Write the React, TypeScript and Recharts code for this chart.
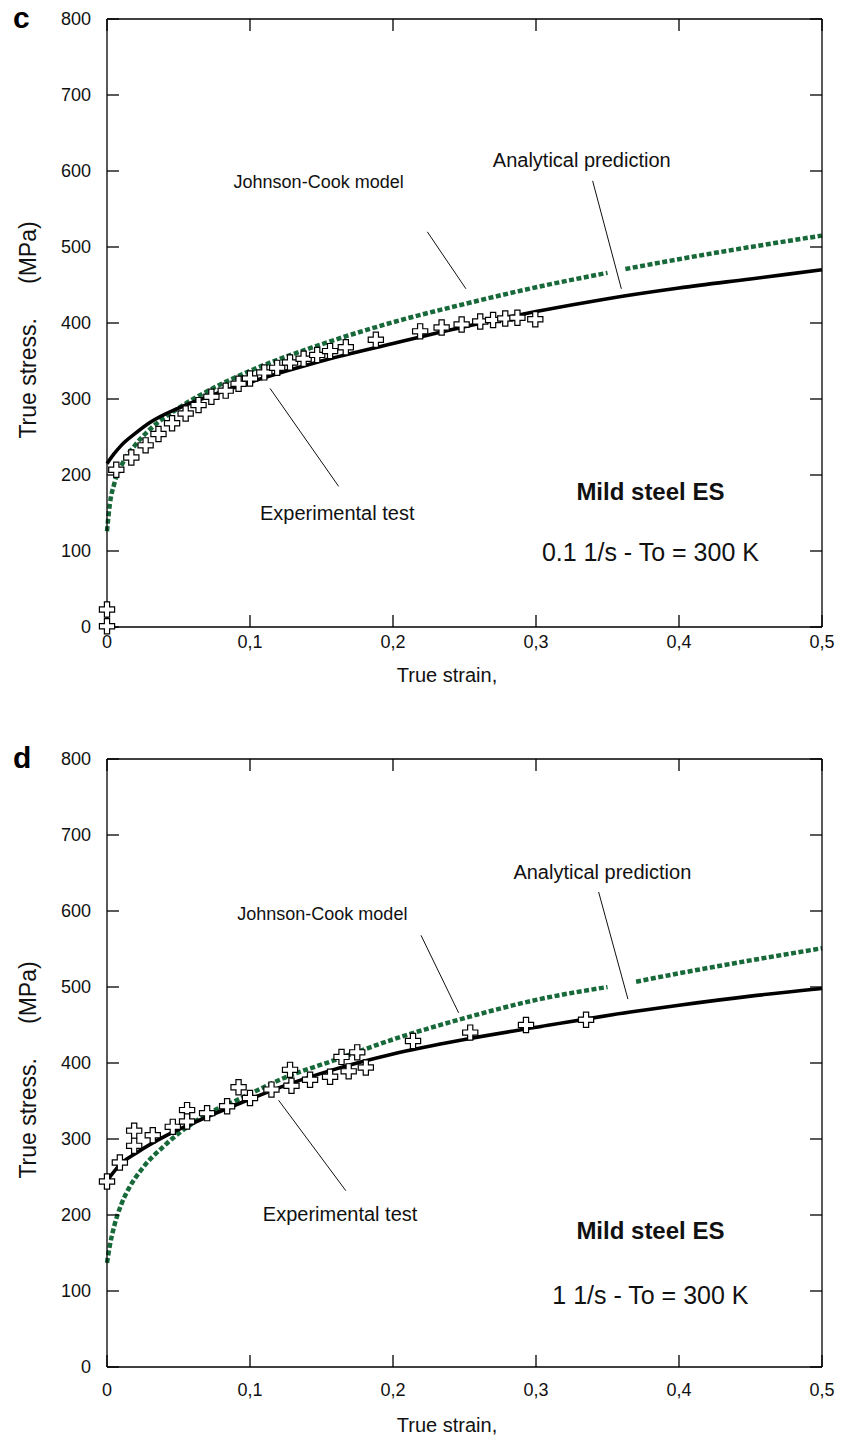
import React from "react";
import {
  ComposedChart,
  Line,
  ReferenceDot,
  ReferenceLine,
  Scatter,
  XAxis,
  YAxis,
} from "recharts";

const STRAIN_TICKS = [0, 0.1, 0.2, 0.3, 0.4, 0.5];
const STRESS_TICKS = [0, 100, 200, 300, 400, 500, 600, 700, 800];

type Pair = [number, number | null];

// panel c : 0.1 1/s
const C_ANALYTICAL: Pair[] = [
  [0, 215], [0.005, 228], [0.01, 239], [0.02, 255], [0.03, 269], [0.05, 288],
  [0.075, 306], [0.1, 322], [0.15, 350], [0.2, 373], [0.25, 395], [0.3, 415],
  [0.35, 432], [0.4, 446], [0.45, 458], [0.5, 470],
];
const C_JOHNSON_COOK: Pair[] = [
  [0, 126], [0.002, 162], [0.005, 188], [0.01, 212], [0.02, 240], [0.03, 260],
  [0.05, 288], [0.075, 315], [0.1, 337], [0.15, 372], [0.2, 401], [0.25, 425],
  [0.3, 447], [0.35, 466], [0.356, null], [0.3625, 471], [0.4, 484], [0.45, 500],
  [0.5, 515],
];
const C_EXPERIMENT: Pair[] = [
  [0, 1], [0, 23], [0.0065, 207], [0.017, 223], [0.027, 239], [0.036, 254],
  [0.0455, 268], [0.055, 281], [0.064, 292], [0.073, 303], [0.083, 311],
  [0.092, 320], [0.1, 327], [0.11, 335], [0.119, 341], [0.128, 348],
  [0.1375, 353], [0.147, 358], [0.156, 363], [0.167, 368], [0.188, 378],
  [0.219, 389], [0.234, 394], [0.248, 398], [0.261, 402], [0.27, 404],
  [0.2785, 406], [0.287, 407], [0.2995, 405],
];

// panel d : 1 1/s
const D_ANALYTICAL: Pair[] = [
  [0, 245], [0.002, 250], [0.01, 268], [0.02, 281], [0.042, 305], [0.065, 325],
  [0.093, 347], [0.121, 368], [0.156, 390], [0.2, 412], [0.25, 431], [0.3, 447],
  [0.366, 467], [0.4, 476], [0.45, 488], [0.5, 498],
];
const D_JOHNSON_COOK: Pair[] = [
  [0, 137], [0.002, 160], [0.005, 185], [0.01, 214], [0.015, 234], [0.025, 262],
  [0.04, 291], [0.065, 327], [0.093, 353], [0.126, 382], [0.158, 403], [0.2, 431],
  [0.25, 459], [0.3, 483], [0.35, 500], [0.36, null], [0.37, 507], [0.4, 518],
  [0.45, 535], [0.5, 551],
];
const D_EXPERIMENT: Pair[] = [
  [0, 244], [0.009, 269], [0.019, 311], [0.019, 291], [0.032, 305], [0.046, 316],
  [0.056, 338], [0.056, 323], [0.07, 334], [0.084, 343], [0.092, 368], [0.1, 354],
  [0.115, 365], [0.128, 391], [0.129, 370], [0.142, 378], [0.156, 382],
  [0.164, 408], [0.169, 389], [0.175, 414], [0.181, 394], [0.214, 429],
  [0.254, 440], [0.293, 450], [0.335, 457],
];

// annotation anchors, in strain / stress units
const C_NOTES = {
  model: { x: 0.148, y: 586, from: [0.224, 520], to: [0.251, 445] },
  analytical: { x: 0.332, y: 615, from: [0.3396, 587], to: [0.3597, 445] },
  experiment: { x: 0.161, y: 150, from: [0.114, 314], to: [0.162, 185] },
  material: { x: 0.38, y: 178 },
  rate: { x: 0.38, y: 98 },
};
const D_NOTES = {
  model: { x: 0.1506, y: 597, from: [0.2196, 568], to: [0.2459, 466] },
  analytical: { x: 0.3464, y: 652, from: [0.3438, 625], to: [0.3643, 484] },
  experiment: { x: 0.163, y: 201, from: [0.12, 351], to: [0.167, 232] },
  material: { x: 0.38, y: 179 },
  rate: { x: 0.38, y: 95 },
};

const FONT = '"Liberation Sans", Arial, Helvetica, sans-serif';
const GREEN = "#17693a";
const AXIS = { stroke: "#000", strokeWidth: 1.3 };
const CHART_W = 841;
const CHART_H = 700;

const toPoints = (pairs: Pair[]) => pairs.map(([x, y]) => ({ x, y }));
const fmtStrain = (v: number) => String(v).replace(".", ",");
// keeps the tick line but draws no label
const noLabel = () => <g />;

function PlusMarker(props: any) {
  const { cx, cy } = props;
  if (cx == null || cy == null) return null;
  const a = 2.6;
  const b = 7.6;
  const d = `M${cx - a},${cy - b}H${cx + a}V${cy - a}H${cx + b}V${cy + a}H${cx + a}V${cy + b}H${cx - a}V${cy + a}H${cx - b}V${cy - a}H${cx - a}Z`;
  return <path d={d} fill="#fff" stroke="#000" strokeWidth={1.2} />;
}

function Note({ x, y, text, size = 19, bold = false }: any) {
  return (
    <ReferenceDot
      xAxisId="b"
      yAxisId="l"
      x={x}
      y={y}
      r={0}
      fill="none"
      stroke="none"
      ifOverflow="visible"
      label={{
        value: text,
        position: "center",
        fontSize: size,
        fontWeight: bold ? "bold" : "normal",
        fill: "#111",
      }}
    />
  );
}

function Leader({ from, to }: any) {
  return (
    <ReferenceLine
      xAxisId="b"
      yAxisId="l"
      segment={[
        { x: from[0], y: from[1] },
        { x: to[0], y: to[1] },
      ]}
      stroke="#111"
      strokeWidth={1}
      ifOverflow="visible"
    />
  );
}

function StressStrainPanel({
  top,
  letter,
  analytical,
  model,
  experiment,
  notes,
  rateLabel,
  tickGap,
  xTitleY,
}: {
  top: number;
  letter: string;
  analytical: Pair[];
  model: Pair[];
  experiment: Pair[];
  notes: typeof C_NOTES;
  rateLabel: string;
  tickGap: number;
  xTitleY: number;
}) {
  return (
    <>
      <div style={{ position: "absolute", left: 0, top, width: CHART_W, height: CHART_H }}>
        <ComposedChart
          width={CHART_W}
          height={CHART_H}
          margin={{ top: 19, right: 19, left: 57, bottom: 13 }}
        >
          {/* labelled axes */}
          <XAxis
            xAxisId="b"
            type="number"
            dataKey="x"
            domain={[0, 0.5]}
            ticks={STRAIN_TICKS}
            tickFormatter={fmtStrain}
            tickLine={false}
            tickMargin={tickGap}
            axisLine={AXIS}
            tick={{ fontSize: 18, fill: "#111" }}
            height={60}
          />
          <YAxis
            yAxisId="l"
            type="number"
            dataKey="y"
            domain={[0, 800]}
            ticks={STRESS_TICKS}
            tickLine={false}
            tickMargin={10}
            axisLine={AXIS}
            tick={{ fontSize: 18, fill: "#111" }}
            width={50}
          />
          {/* mirrored copies give the inward ticks and the frame */}
          <XAxis
            xAxisId="bIn"
            type="number"
            dataKey="x"
            domain={[0, 0.5]}
            ticks={STRAIN_TICKS}
            mirror
            tick={noLabel}
            axisLine={false}
            tickSize={12}
            tickLine={AXIS}
          />
          <YAxis
            yAxisId="lIn"
            type="number"
            dataKey="y"
            domain={[0, 800]}
            ticks={STRESS_TICKS}
            mirror
            tick={noLabel}
            axisLine={false}
            tickSize={12}
            tickLine={AXIS}
          />
          <XAxis
            xAxisId="t"
            orientation="top"
            type="number"
            dataKey="x"
            domain={[0, 0.5]}
            ticks={STRAIN_TICKS}
            mirror
            tick={noLabel}
            axisLine={AXIS}
            tickSize={12}
            tickLine={AXIS}
          />
          <YAxis
            yAxisId="r"
            orientation="right"
            type="number"
            dataKey="y"
            domain={[0, 800]}
            ticks={STRESS_TICKS}
            mirror
            tick={noLabel}
            axisLine={AXIS}
            tickSize={12}
            tickLine={AXIS}
          />

          <Leader from={notes.model.from} to={notes.model.to} />
          <Leader from={notes.analytical.from} to={notes.analytical.to} />
          <Leader from={notes.experiment.from} to={notes.experiment.to} />

          <Line
            xAxisId="t"
            yAxisId="r"
            data={toPoints(model)}
            dataKey="y"
            type="monotone"
            stroke={GREEN}
            strokeWidth={4.5}
            strokeDasharray="5 2.5"
            dot={false}
            activeDot={false}
            isAnimationActive={false}
          />
          <Line
            xAxisId="bIn"
            yAxisId="lIn"
            data={toPoints(analytical)}
            dataKey="y"
            type="monotone"
            stroke="#000"
            strokeWidth={3.6}
            dot={false}
            activeDot={false}
            isAnimationActive={false}
          />
          <Scatter
            xAxisId="b"
            yAxisId="l"
            data={toPoints(experiment)}
            shape={PlusMarker}
            isAnimationActive={false}
          />

          <Note {...notes.model} text="Johnson-Cook model" size={18} />
          <Note {...notes.analytical} text="Analytical prediction" size={20} />
          <Note {...notes.experiment} text="Experimental test" size={20} />
          <Note {...notes.material} text="Mild steel ES" size={24} bold />
          <Note {...notes.rate} text={rateLabel} size={25} />
        </ComposedChart>
      </div>
      <div
        style={{
          position: "absolute",
          left: 13,
          top: top + 3,
          fontSize: 30,
          fontWeight: "bold",
          lineHeight: "30px",
        }}
      >
        {letter}
      </div>
      <div
        style={{
          position: "absolute",
          left: 28,
          top: top + 330,
          transform: "translate(-50%, -50%) rotate(-90deg)",
          fontSize: 23,
          whiteSpace: "pre",
          color: "#111",
        }}
      >
        True stress.
        <span style={{ marginLeft: 34 }}>(MPa)</span>
      </div>
      <div
        style={{
          position: "absolute",
          left: 447,
          top: top + xTitleY,
          transform: "translate(-50%, -50%)",
          fontSize: 20,
          whiteSpace: "pre",
          color: "#111",
        }}
      >
        True strain,
      </div>
    </>
  );
}

export default function App() {
  return (
    <div
      style={{
        position: "absolute",
        left: 0,
        top: 0,
        width: 841,
        height: 1452,
        background: "#fff",
        fontFamily: FONT,
      }}
    >
      <StressStrainPanel
        top={0}
        letter="c"
        analytical={C_ANALYTICAL}
        model={C_JOHNSON_COOK}
        experiment={C_EXPERIMENT}
        notes={C_NOTES}
        rateLabel="0.1 1/s - To = 300 K"
        tickGap={2}
        xTitleY={675}
      />
      <StressStrainPanel
        top={740}
        letter="d"
        analytical={D_ANALYTICAL}
        model={D_JOHNSON_COOK}
        experiment={D_EXPERIMENT}
        notes={D_NOTES}
        rateLabel="1 1/s - To = 300 K"
        tickGap={10}
        xTitleY={685}
      />
    </div>
  );
}
